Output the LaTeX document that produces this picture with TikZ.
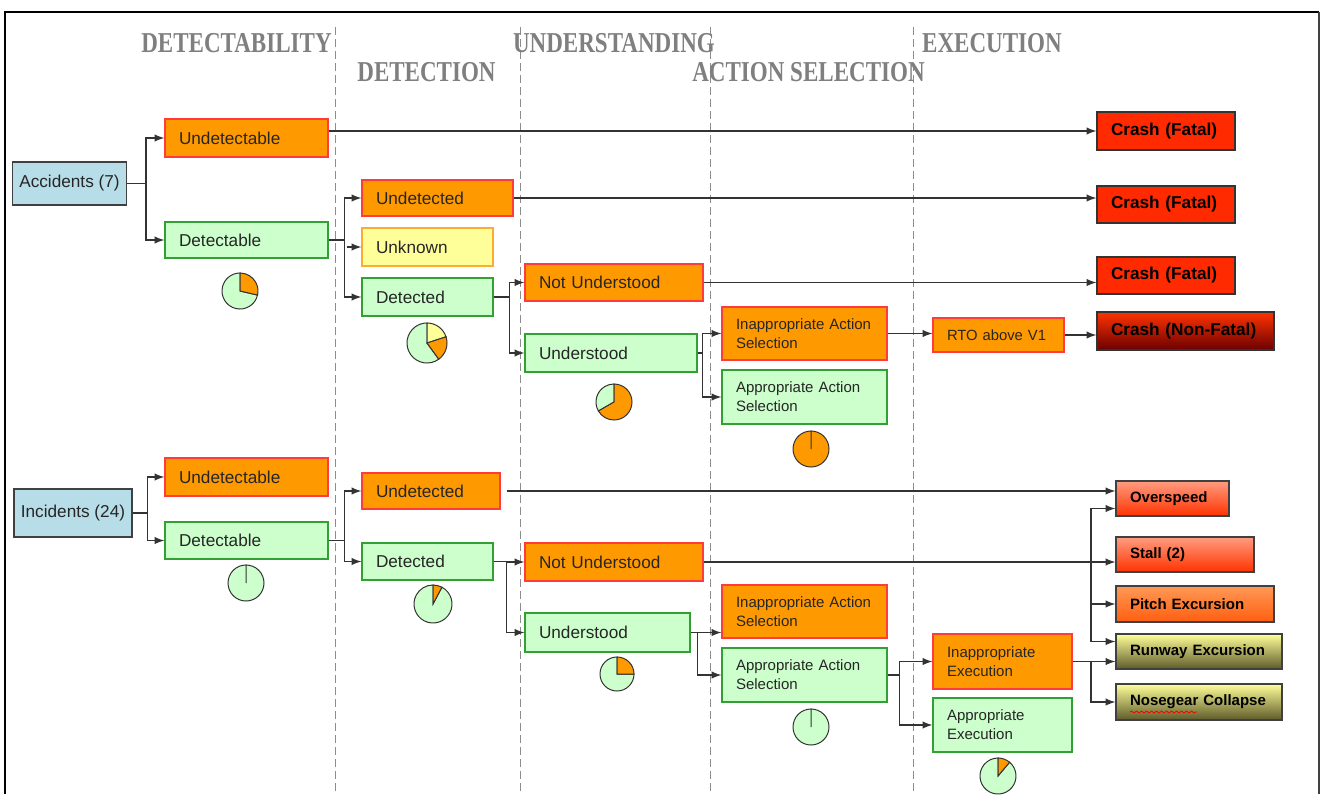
\documentclass[tikz,border=0pt]{standalone}
\usepackage{fontspec}
\setmainfont{Liberation Sans}
\newfontfamily\hdrfont{Liberation Serif}
\usepackage{graphicx}
\usetikzlibrary{decorations.pathmorphing}
\tikzset{>=latex}

\definecolor{hdrgrey}{HTML}{7F7F7F}
\definecolor{bxorange}{HTML}{FF9900}
\definecolor{bxred}{HTML}{FF3B3B}
\definecolor{bxgreen}{HTML}{CCFFCC}
\definecolor{bxgreenline}{HTML}{33A033}
\definecolor{bxyellow}{HTML}{FFFF99}
\definecolor{bxyellowline}{HTML}{FFAA33}
\definecolor{bxblue}{HTML}{B7DDE8}
\definecolor{crashred}{HTML}{FF2A00}
\definecolor{crashtop}{HTML}{FF3300}
\definecolor{crashbot}{HTML}{6A0000}
\definecolor{hottop}{HTML}{FF9C80}
\definecolor{hotbot}{HTML}{FF3300}
\definecolor{pitchtop}{HTML}{FF9955}
\definecolor{pitchbot}{HTML}{FF5E10}
\definecolor{olivetop}{HTML}{FFFF99}
\definecolor{olivemid}{HTML}{E6E27A}
\definecolor{olivebot}{HTML}{5E5A2A}
\definecolor{wirecol}{HTML}{333333}

\tikzset{
  dims/.style 2 args={minimum width=#1*0.5pt, minimum height=#2*0.5pt},
  cell/.style={rectangle, draw, line width=0.6pt, inner ysep=0pt, text=black!85,
    font=\fontsize{8.6}{10}\selectfont},
  box/.style 2 args={cell, dims={#1}{#2}, text width=#1*0.5pt-14pt, inner xsep=7pt, align=left},
  root/.style 2 args={cell, dims={#1}{#2}, fill=bxblue, draw=black!75},
  bad/.style={fill=bxorange, draw=bxred},
  good/.style={fill=bxgreen, draw=bxgreenline},
  unsure/.style={fill=bxyellow, draw=bxyellowline},
  two/.style={font=\fontsize{7.5}{9.5}\selectfont},
  crash/.style={fill=crashred, draw=black!80, text=black, font=\bfseries\fontsize{8.6}{10}\selectfont},
  outcome/.style={draw=black!75, text=black, font=\bfseries\fontsize{7.5}{9}\selectfont},
  hot/.style={outcome, top color=hottop, bottom color=hotbot},
  olive/.style={outcome, top color=olivetop, middle color=olivemid, bottom color=olivebot},
  hdr/.style={text=hdrgrey, font=\hdrfont\bfseries\fontsize{14.4}{16}\selectfont},
  colsep/.style={draw=black!45, dash pattern=on 4pt off 2pt, line width=0.5pt},
  wire/.style={draw=wirecol, line width=0.7pt},
}

\newcommand{\pieslice}[5]{\filldraw[fill=#5, draw=wirecol, line width=0.5pt] (#1) -- ++({#3-90}:#2) arc[start angle={#3-90}, end angle={#4-90}, radius=#2] -- cycle;}

\begin{document}
\begin{tikzpicture}[x=0.5pt,y=-0.5pt]
	\useasboundingbox (0,0) rectangle (1323,794);
	\draw[line width=1.4pt] (5,794) -- (5,12) -- (1319,12);
	\draw[line width=0.8pt, black!75] (1319,12) -- (1319,794);

	\draw[colsep] (335,27) -- (335,794);
	\draw[colsep] (520,27) -- (520,794);
	\draw[colsep] (710,27) -- (710,794);
	\draw[colsep] (913,27) -- (913,794);

	\node[hdr] (hdtb) at (236.5,43) {\scalebox{0.8}[1]{DETECTABILITY}};
	\node[hdr] (hdtc) at (426.5,72) {\scalebox{0.8}[1]{DETECTION}};
	\node[hdr] (hund) at (614,43) {\scalebox{0.8}[1]{UNDERSTANDING}};
	\node[hdr] (hact) at (808.5,72) {\scalebox{0.8}[1]{ACTION SELECTION}};
	\node[hdr] (hexe) at (992,43) {\scalebox{0.8}[1]{EXECUTION}};

	% accidents
	\node[root={113}{43}] (acc) at (69.5,183.5) {Accidents (7)};
	\node[box={163}{38}, bad] (audt) at (246.5,138) {Undetectable};
	\node[box={163}{36}, good] (adt) at (246.5,240) {Detectable};
	\node[box={151}{36}, bad] (audd) at (437.5,198) {Undetected};
	\node[box={131}{38}, unsure] (aunk) at (427.5,247) {Unknown};
	\node[box={131}{38}, good] (add) at (427.5,297) {Detected};
	\node[box={178}{37}, bad] (anu) at (614,282.5) {Not Understood};
	\node[box={172}{38}, good] (aund) at (611,353) {Understood};
	\node[box={165}{53}, bad, two] (aias) at (804.5,333.5) {Inappropriate Action\\Selection};
	\node[box={165}{54}, good, two] (aas) at (804.5,397) {Appropriate Action\\Selection};
	\node[box={131}{34}, bad, font=\fontsize{7.4}{9}\selectfont] (arto) at (998.5,335) {RTO above V1};
	\node[box={138}{38}, crash] (crash1) at (1166,131) {Crash (Fatal)};
	\node[box={138}{37}, crash] (crash2) at (1166,204.5) {Crash (Fatal)};
	\node[box={138}{37}, crash] (crash3) at (1166,275.5) {Crash (Fatal)};
	\node[box={177}{38}, crash, top color=crashtop, bottom color=crashbot] (crash4) at (1185.5,331) {Crash (Non-Fatal)};

	\draw[wire,->] (acc.east) -- ++(19,0) |- (audt.west);
	\draw[wire,->] (acc.east) -- ++(19,0) |- (adt.west);
	\draw[wire,->] (audt.east |- crash1.west) -- (crash1.west);
	\draw[wire,->] (adt.east) -- ++(16,0) |- (audd.west);
	\draw[wire,->] (adt.east) -- ++(16,0) |- (add.west);
	\draw[wire,->] ([xshift=-7pt]aunk.west) -- (aunk.west);
	\draw[wire,->] (audd.east) -- (crash2.west |- audd.east);
	\draw[wire,->] (add.east) -- ++(16,0) |- (anu.west);
	\draw[wire,->] (add.east) -- ++(16,0) |- (aund.west);
	\draw[wire,->] (anu.east) -- (crash3.west |- anu.east);
	\draw[wire,->] (aund.east) -- ++(5,0) |- (aias.west);
	\draw[wire,->] (aund.east) -- ++(5,0) |- (aas.west);
	\draw[wire,->] (aias.east) -- (arto.west |- aias.east);
	\draw[wire,->] (arto.east) -- (crash4.west |- arto.east);

	\pieslice{240,291}{18}{103}{360}{bxgreen}
	\pieslice{240,291}{18}{0}{103}{bxorange}
	\pieslice{427,343}{20}{144}{360}{bxgreen}
	\pieslice{427,343}{20}{0}{72}{bxyellow}
	\pieslice{427,343}{20}{72}{144}{bxorange}
	\pieslice{614,402}{18}{240}{360}{bxgreen}
	\pieslice{614,402}{18}{0}{240}{bxorange}
	\pieslice{811,449}{18}{0}{360}{bxorange}

	% incidents
	\node[root={118}{48}] (inc) at (73,513) {Incidents (24)};
	\node[box={163}{38}, bad] (iudt) at (246.5,477) {Undetectable};
	\node[box={163}{37}, good] (idt) at (246.5,540.5) {Detectable};
	\node[box={138}{36}, bad] (iudd) at (431,491) {Undetected};
	\node[box={131}{37}, good] (idd) at (427.5,561.5) {Detected};
	\node[box={178}{38}, bad] (inu) at (614,562) {Not Understood};
	\node[box={165}{39}, good] (iund) at (607.5,632.5) {Understood};
	\node[box={165}{53}, bad, two] (iias) at (804.5,611.5) {Inappropriate Action\\Selection};
	\node[box={165}{54}, good, two] (ias) at (804.5,675) {Appropriate Action\\Selection};
	\node[box={139}{55}, bad, two] (iie) at (1002.5,661.5) {Inappropriate\\Execution};
	\node[box={139}{54}, good, two] (iae) at (1002.5,725) {Appropriate\\Execution};
	\node[box={113}{35}, hot] (over) at (1172.5,498.5) {Overspeed};
	\node[box={138}{35}, hot] (stall) at (1185,554.5) {Stall (2)};
	\node[box={158}{36}, outcome, top color=pitchtop, bottom color=pitchbot] (pitch) at (1195,604) {Pitch Excursion};
	\node[box={166}{35}, olive] (rwy) at (1199,651.5) {Runway Excursion};
	\node[box={166}{36}, olive] (nose) at (1199,702) {Nosegear Collapse};
	\coordinate (jx) at (1091,0);

	\draw[wire,->] (inc.east) -- ++(15,0) |- (iudt.west);
	\draw[wire,->] (inc.east) -- ++(15,0) |- (idt.west);
	\draw[wire,->] (idt.east) -- ++(16,0) |- (iudd.west);
	\draw[wire,->] (idt.east) -- ++(16,0) |- (idd.west);
	\draw[wire,->] ([xshift=3pt]iudd.east) -- (over.west |- iudd.east);
	\draw[wire,->] (idd.east) -- ++(13,0) |- (inu.west);
	\draw[wire,->] (idd.east) -- ++(13,0) |- (iund.west);
	\draw[wire,->] (inu.east) -- (stall.west |- inu.east);
	\draw[wire,->] (inu.east -| jx) |- ([yshift=-5pt]over.west);
	\draw[wire,->] (inu.east -| jx) |- (pitch.west);
	\draw[wire,->] (inu.east -| jx) |- ([yshift=5pt]rwy.west);
	\draw[wire,->] (iund.east) -- (iias.west |- iund.east);
	\draw[wire,->] (iund.east) -- ++(7,0) |- (ias.west);
	\draw[wire,->] (ias.east) -- ++(12,0) |- (iie.west);
	\draw[wire,->] (ias.east) -- ++(12,0) |- (iae.west);
	\draw[wire,->] (iie.east) -- (rwy.west |- iie.east);
	\draw[wire,->] (iie.east -| jx) |- (nose.west);

	\draw[red, line width=0.4pt, decorate, decoration={snake, amplitude=0.5pt, segment length=2.5pt}] (1130,712) -- (1197,712);

	\pieslice{246,583}{18}{0}{360}{bxgreen}
	\pieslice{433,604}{19}{28}{360}{bxgreen}
	\pieslice{433,604}{19}{0}{28}{bxorange}
	\pieslice{617,674}{17}{90}{360}{bxgreen}
	\pieslice{617,674}{17}{0}{90}{bxorange}
	\pieslice{811,727}{18}{0}{360}{bxgreen}
	\pieslice{998,776}{18}{40}{360}{bxgreen}
	\pieslice{998,776}{18}{0}{40}{bxorange}
\end{tikzpicture}
\end{document}
